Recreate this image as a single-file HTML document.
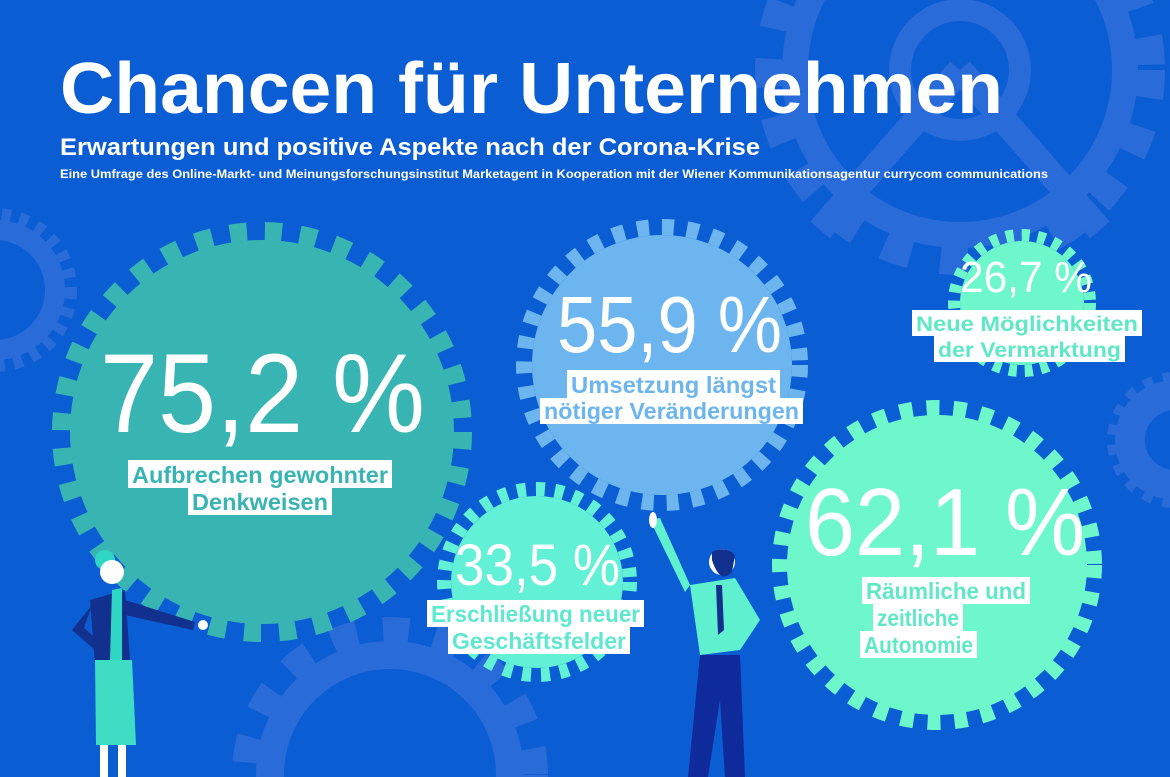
<!DOCTYPE html>
<html><head><meta charset="utf-8"><style>
html,body{margin:0;padding:0;background:#0b5dd3;width:1170px;height:777px;overflow:hidden;}
svg{display:block;overflow:hidden;font-family:"Liberation Sans",sans-serif;}
</style></head><body>
<svg width="1170" height="777" viewBox="0 0 1170 777" xmlns="http://www.w3.org/2000/svg">
<defs><clipPath id="c"><rect width="1170" height="777"/></clipPath></defs>
<g clip-path="url(#c)">
<rect width="1170" height="777" fill="#0b5dd3"/>
<g fill="none" stroke="#286bd9">
 <circle cx="960" cy="70" r="165" stroke-width="26"/>
 <circle cx="960" cy="70" r="190" stroke-width="30" stroke-dasharray="28 30"/>
 <circle cx="960" cy="70" r="60" stroke-width="22"/>
 <line x1="960" y1="70" x2="1100" y2="230" stroke-width="26"/>
 <line x1="960" y1="70" x2="820" y2="230" stroke-width="26"/>
 <circle cx="-5" cy="290" r="60" stroke-width="20"/>
 <circle cx="-5" cy="290" r="75" stroke-width="14" stroke-dasharray="9 9"/>
 <circle cx="390" cy="775" r="120" stroke-width="28"/>
 <circle cx="390" cy="775" r="145" stroke-width="26" stroke-dasharray="26 26"/>
 <circle cx="1175" cy="440" r="45" stroke-width="30"/>
 <circle cx="1175" cy="440" r="62" stroke-width="12" stroke-dasharray="10 10"/>
</g>
<circle cx="262" cy="432" r="192" fill="#38b4b2"/>
<circle cx="262" cy="432" r="200" fill="none" stroke="#38b4b2" stroke-width="20" stroke-dasharray="17 18"/>
<circle cx="662" cy="365" r="130" fill="#6cb5ee"/>
<circle cx="662" cy="365" r="138" fill="none" stroke="#6cb5ee" stroke-width="16" stroke-dasharray="12 13"/>
<circle cx="1022" cy="303" r="62" fill="#6ff7cc"/>
<circle cx="1022" cy="303" r="68" fill="none" stroke="#6ff7cc" stroke-width="12" stroke-dasharray="8 8"/>
<circle cx="537" cy="582" r="86" fill="#62f0d6"/>
<circle cx="537" cy="582" r="93" fill="none" stroke="#62f0d6" stroke-width="14" stroke-dasharray="9 10"/>
<circle cx="937" cy="565" r="150" fill="#6ff7cc"/>
<circle cx="937" cy="565" r="157" fill="none" stroke="#6ff7cc" stroke-width="16" stroke-dasharray="13 14"/>

<g fill="#fff" font-weight="bold">
<text x="60" y="113" font-size="72" textLength="943" lengthAdjust="spacingAndGlyphs">Chancen für Unternehmen</text>
<text x="60" y="155" font-size="24" textLength="700" lengthAdjust="spacingAndGlyphs">Erwartungen und positive Aspekte nach der Corona-Krise</text>
<text x="60" y="178" font-size="12" textLength="988" lengthAdjust="spacingAndGlyphs">Eine Umfrage des Online-Markt- und Meinungsforschungsinstitut Marketagent in Kooperation mit der Wiener Kommunikationsagentur currycom communications</text>
</g>
<g fill="#fff">
<text x="100" y="432" font-size="112" textLength="325" lengthAdjust="spacingAndGlyphs">75,2 %</text>
<text x="557" y="352" font-size="80" textLength="225" lengthAdjust="spacingAndGlyphs">55,9 %</text>
<text x="960" y="292" font-size="44" textLength="132" lengthAdjust="spacingAndGlyphs">26,7 %</text>
<text x="455" y="585" font-size="58" textLength="165" lengthAdjust="spacingAndGlyphs">33,5 %</text>
<text x="805" y="555" font-size="96" textLength="280" lengthAdjust="spacingAndGlyphs">62,1 %</text>
</g>
<g fill="#fff">
<rect x="128" y="460" width="264" height="28"/><rect x="188" y="488" width="144" height="27"/>
<rect x="567" y="370" width="213" height="28"/><rect x="540" y="398" width="263" height="26"/>
<rect x="912" y="310" width="230" height="26"/><rect x="934" y="336" width="191" height="26"/>
<rect x="427" y="600" width="217" height="27"/><rect x="448" y="627" width="182" height="27"/>
<rect x="862" y="577" width="168" height="27"/><rect x="873" y="604" width="90" height="27"/><rect x="860" y="631" width="117" height="27"/>
</g>
<g font-size="23" font-weight="bold">
<text fill="#38b4b2" x="132" y="483" textLength="256" lengthAdjust="spacingAndGlyphs">Aufbrechen gewohnter</text>
<text fill="#38b4b2" x="192" y="510" textLength="136" lengthAdjust="spacingAndGlyphs">Denkweisen</text>
<text fill="#6cb5ee" x="571" y="393" textLength="205" lengthAdjust="spacingAndGlyphs">Umsetzung längst</text>
<text fill="#6cb5ee" x="544" y="419" textLength="255" lengthAdjust="spacingAndGlyphs">nötiger Veränderungen</text>
<text fill="#5fe8c6" x="916" y="331" font-size="21" textLength="222" lengthAdjust="spacingAndGlyphs">Neue Möglichkeiten</text>
<text fill="#5fe8c6" x="938" y="357" font-size="21" textLength="183" lengthAdjust="spacingAndGlyphs">der Vermarktung</text>
<text fill="#5fe8d0" x="431" y="622" textLength="209" lengthAdjust="spacingAndGlyphs">Erschließung neuer</text>
<text fill="#5fe8d0" x="452" y="649" textLength="174" lengthAdjust="spacingAndGlyphs">Geschäftsfelder</text>
<text fill="#5fe8c6" x="866" y="599" textLength="160" lengthAdjust="spacingAndGlyphs">Räumliche und</text>
<text fill="#5fe8c6" x="877" y="626" textLength="82" lengthAdjust="spacingAndGlyphs">zeitliche</text>
<text fill="#5fe8c6" x="864" y="653" textLength="109" lengthAdjust="spacingAndGlyphs">Autonomie</text>
</g>
<g>
<circle cx="105" cy="560" r="10" fill="#2fd6c4"/>
<circle cx="112" cy="572" r="12" fill="#fff"/>
<path d="M90 600 L125 590 L130 660 L95 665 Z" fill="#12308e"/>
<path d="M112 590 L122 588 L122 660 L110 660 Z" fill="#2fd6c4"/>
<path d="M125 600 L195 622 L193 630 L125 615 Z" fill="#12308e"/>
<path d="M92 605 L72 630 L95 650 L98 640 L84 628 Z" fill="#12308e"/>
<path d="M95 660 L132 660 L136 745 L96 745 Z" fill="#3fdcc4"/>
<rect x="100" y="745" width="8" height="32" fill="#fff"/><rect x="118" y="745" width="8" height="32" fill="#fff"/>
<circle cx="203" cy="625" r="5" fill="#fff"/>
</g>
<g>
<path d="M650 520 L660 518 L690 585 L685 592 Z" fill="#5ff0d0"/>
<ellipse cx="653" cy="520" rx="4" ry="8" fill="#fff"/>
<circle cx="722" cy="562" r="13" fill="#fff"/>
<path d="M712 560 Q720 585 732 572 L735 555 Q725 545 712 552 Z" fill="#12308e"/>
<path d="M690 585 L735 578 L760 620 L740 650 L700 655 Z" fill="#5ff0d0"/>
<path d="M716 585 L722 585 L724 630 L718 635 Z" fill="#12308e"/>
<path d="M700 655 L740 655 L745 777 L725 777 L720 700 L708 777 L688 777 Z" fill="#0f2a9a"/>
</g>
</g>
</svg>
</body></html>
